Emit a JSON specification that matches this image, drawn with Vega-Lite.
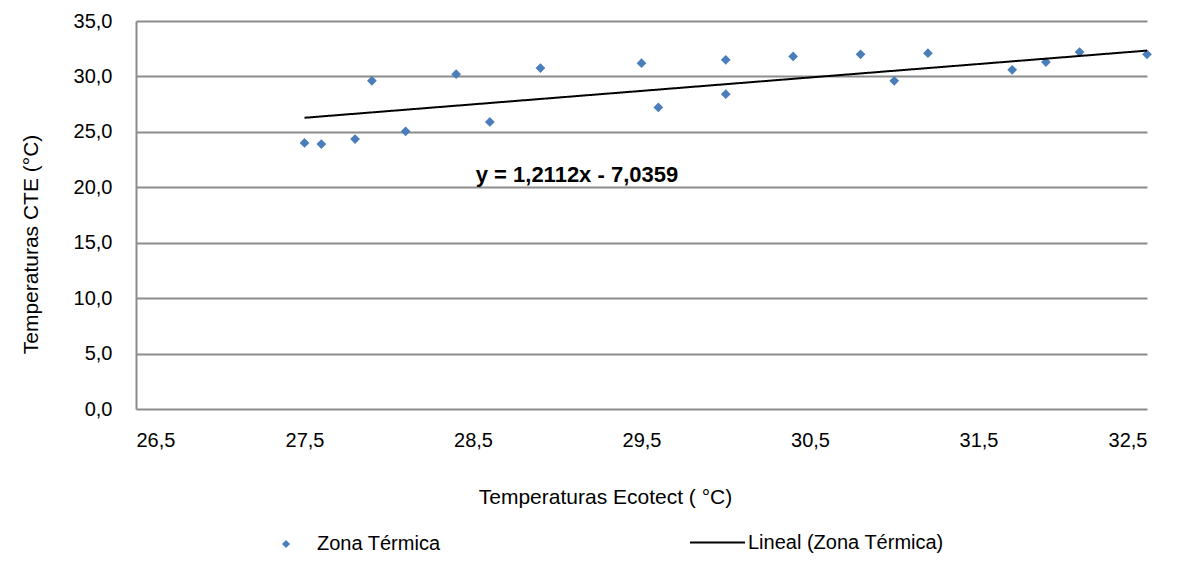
{
  "$schema": "https://vega.github.io/schema/vega-lite/v6.json",
  "width": 1011,
  "height": 388,
  "autosize": {"type": "none"},
  "padding": {"left": 136, "top": 21, "right": 32, "bottom": 152},
  "background": "white",
  "config": {
    "locale": {"number": {"decimal": ",", "thousands": ".", "grouping": [3], "currency": ["", " €"]}},
    "font": "Liberation Sans",
    "view": {"stroke": null},
    "axis": {"labelFont": "Liberation Sans", "titleFont": "Liberation Sans", "labelFontSize": 20, "titleFontSize": 21, "labelColor": "#000000", "titleColor": "#000000", "titleFontWeight": "normal", "ticks": false}
  },
  "resolve": {"scale": {"color": "independent"}, "legend": {"color": "independent", "strokeDash": "independent"}},
  "datasets": {
    "puntos": [
      {"ecotect": 27.5, "cte": 24.0, "serie": "Zona Térmica"},
      {"ecotect": 27.6, "cte": 23.9, "serie": "Zona Térmica"},
      {"ecotect": 27.8, "cte": 24.35, "serie": "Zona Térmica"},
      {"ecotect": 27.9, "cte": 29.6, "serie": "Zona Térmica"},
      {"ecotect": 28.1, "cte": 25.05, "serie": "Zona Térmica"},
      {"ecotect": 28.4, "cte": 30.2, "serie": "Zona Térmica"},
      {"ecotect": 28.6, "cte": 25.9, "serie": "Zona Térmica"},
      {"ecotect": 28.9, "cte": 30.75, "serie": "Zona Térmica"},
      {"ecotect": 29.5, "cte": 31.2, "serie": "Zona Térmica"},
      {"ecotect": 29.6, "cte": 27.2, "serie": "Zona Térmica"},
      {"ecotect": 30.0, "cte": 31.5, "serie": "Zona Térmica"},
      {"ecotect": 30.0, "cte": 28.4, "serie": "Zona Térmica"},
      {"ecotect": 30.4, "cte": 31.8, "serie": "Zona Térmica"},
      {"ecotect": 30.8, "cte": 32.0, "serie": "Zona Térmica"},
      {"ecotect": 31.0, "cte": 29.6, "serie": "Zona Térmica"},
      {"ecotect": 31.2, "cte": 32.1, "serie": "Zona Térmica"},
      {"ecotect": 31.7, "cte": 30.6, "serie": "Zona Térmica"},
      {"ecotect": 31.9, "cte": 31.3, "serie": "Zona Térmica"},
      {"ecotect": 32.1, "cte": 32.2, "serie": "Zona Térmica"},
      {"ecotect": 32.5, "cte": 32.0, "serie": "Zona Térmica"}
    ],
    "tendencia": [
      {"ecotect": 27.5, "cte": 26.27, "serie": "Lineal (Zona Térmica)"},
      {"ecotect": 32.5, "cte": 32.33, "serie": "Lineal (Zona Térmica)"}
    ],
    "etiqueta": [
      {"ecotect": 29.117, "cte": 21.1, "texto": "y = 1,2112x - 7,0359"}
    ]
  },
  "layer": [
    {
      "data": {"name": "puntos"},
      "mark": {"type": "point", "shape": "diamond", "filled": true, "opacity": 1, "size": 95},
      "encoding": {
        "x": {"field": "ecotect", "type": "quantitative",
          "scale": {"domain": [26.5, 32.5], "nice": false, "zero": false},
          "axis": {"values": [26.5, 27.5, 28.5, 29.5, 30.5, 31.5, 32.5], "format": ".1f", "grid": false,
            "domain": false, "labelPadding": 21,
            "title": "Temperaturas Ecotect ( °C)", "titleX": 469, "titleY": 88, "titleBaseline": "middle", "titleAnchor": "middle", "titleAlign": "center"}},
        "y": {"field": "cte", "type": "quantitative",
          "scale": {"domain": [0, 35], "nice": false},
          "axis": {"values": [0, 5, 10, 15, 20, 25, 30, 35], "format": ".1f", "grid": true, "gridColor": "#8c8c8c", "gridWidth": 2,
            "domain": true, "domainColor": "#8c8c8c", "domainWidth": 2, "labelPadding": 24,
            "title": "Temperaturas CTE (°C)", "titleX": -105, "titleY": 223, "titleAngle": -90, "titleBaseline": "middle", "titleAlign": "center"}},
        "color": {"field": "serie", "type": "nominal",
          "scale": {"domain": ["Zona Térmica"], "range": ["#4a7ebb"]},
          "legend": {
            "title": null, "orient": "none", "legendX": 140, "legendY": 513, "padding": 0,
            "labelFont": "Liberation Sans", "labelFontSize": 20, "labelColor": "#000000", "labelOffset": 21,
            "symbolSize": 64, "symbolType": "diamond", "labelLimit": 400
          }}
      }
    },
    {
      "data": {"name": "tendencia"},
      "mark": {"type": "line", "strokeWidth": 2, "color": "#000000"},
      "encoding": {
        "x": {"field": "ecotect", "type": "quantitative"},
        "y": {"field": "cte", "type": "quantitative"},
        "strokeDash": {"field": "serie", "type": "nominal",
          "scale": {"domain": ["Lineal (Zona Térmica)"], "range": [[1, 0]]},
          "legend": {
            "title": null, "orient": "none", "legendX": 553, "legendY": 493, "padding": 0,
            "labelFont": "Liberation Sans", "labelFontSize": 20, "labelColor": "#000000", "labelOffset": 2,
            "symbolSize": 3025, "symbolType": "stroke", "symbolStrokeWidth": 2, "symbolStrokeColor": "#000000", "labelLimit": 400
          }}
      }
    },
    {
      "data": {"name": "etiqueta"},
      "mark": {"type": "text", "fontWeight": "bold", "fontSize": 22, "font": "Liberation Sans", "color": "#000000"},
      "encoding": {
        "x": {"field": "ecotect", "type": "quantitative"},
        "y": {"field": "cte", "type": "quantitative"},
        "text": {"field": "texto"}
      }
    }
  ]
}
